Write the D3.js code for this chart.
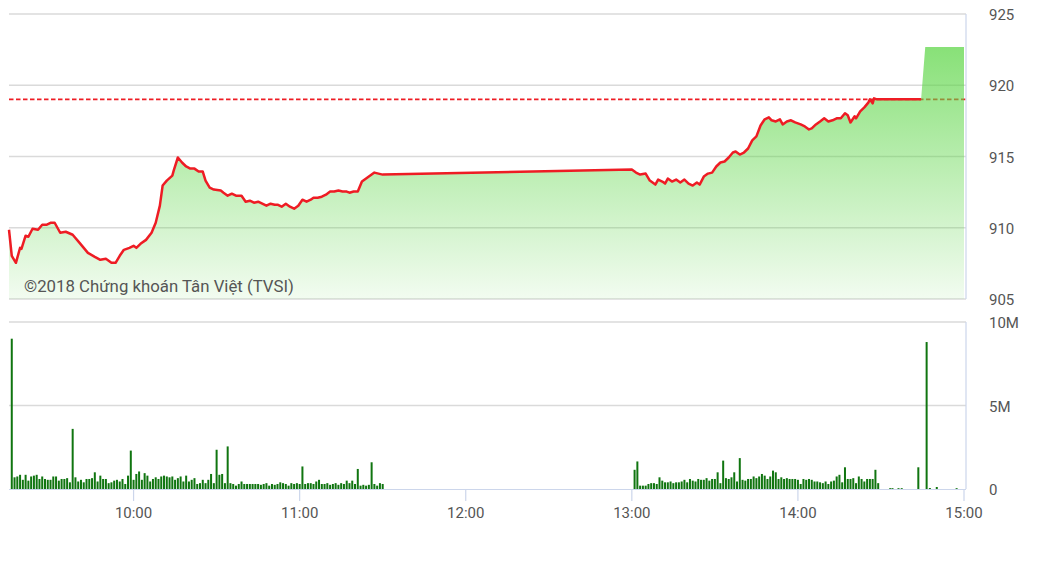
<!DOCTYPE html>
<html><head><meta charset="utf-8">
<script src="https://cdn.jsdelivr.net/npm/d3@7"></script>
<style>html,body{margin:0;padding:0;background:#fff}svg{display:block}</style>
</head><body>
<svg id="c" width="1042" height="585"></svg>
<script>
// ---------- DATA ----------
const priceTimes = ["09:15:00","09:16:00","09:17:30","09:19:00","09:19:30","09:21:00","09:22:00","09:23:30","09:25:30","09:27:00","09:28:30","09:30:00","09:31:30","09:33:30","09:35:30","09:38:00","09:40:30","09:43:30","09:46:00","09:48:00","09:50:00","09:52:00","09:53:30","09:55:00","09:56:30","09:58:30","10:00:00","10:01:00","10:02:30","10:04:30","10:06:30","10:08:00","10:09:30","10:10:30","10:12:00","10:14:00","10:14:30","10:16:00","10:17:30","10:19:00","10:20:30","10:22:00","10:23:30","10:25:00","10:26:00","10:27:30","10:29:00","10:31:30","10:32:30","10:34:00","10:35:30","10:37:00","10:39:00","10:40:30","10:42:00","10:43:30","10:45:00","10:46:30","10:48:00","10:49:30","10:51:00","10:52:00","10:53:30","10:55:00","10:56:30","10:58:00","10:59:30","11:01:00","11:02:30","11:04:00","11:05:00","11:06:30","11:08:00","11:09:30","11:11:00","11:12:30","11:14:00","11:15:30","11:17:00","11:18:00","11:19:30","11:21:00","11:22:30","11:24:00","11:25:30","11:27:00","11:28:30","11:30:00",
"13:00:00","13:01:30","13:03:00","13:05:00","13:06:30","13:08:30","13:09:30","13:11:00","13:12:00","13:13:00","13:14:30","13:16:00","13:17:30","13:19:00","13:20:30","13:22:00","13:23:30","13:24:30","13:26:00","13:27:30","13:29:00","13:30:30","13:32:00","13:33:30","13:35:00","13:36:30","13:37:30","13:39:00","13:40:30","13:42:00","13:43:30","13:45:00","13:46:30","13:48:00","13:49:30","13:50:30","13:52:00","13:53:30","13:54:30","13:56:00","13:57:30","13:59:00","14:01:00","14:02:30","14:04:00","14:05:00","14:06:30","14:08:00","14:09:30","14:11:00","14:12:30","14:14:00","14:15:30","14:17:00","14:18:00","14:19:00","14:20:30","14:21:00","14:22:30","14:24:00","14:25:30","14:26:00","14:27:00","14:27:30","14:28:30","14:44:30"];
const priceValues = [909.86,908.03,907.54,908.59,908.52,909.44,909.37,909.93,909.86,910.21,910.21,910.35,910.35,909.65,909.72,909.51,908.94,908.24,907.96,907.75,907.82,907.54,907.54,908.03,908.45,908.59,908.73,908.59,908.87,909.15,909.65,910.35,911.55,912.96,913.31,913.66,914.01,914.93,914.58,914.30,914.15,914.15,913.94,913.94,913.31,912.82,912.68,912.61,912.46,912.25,912.39,912.25,912.25,911.83,911.90,911.76,911.83,911.69,911.55,911.69,911.62,911.62,911.48,911.69,911.48,911.34,911.55,911.97,911.83,911.97,912.11,912.11,912.18,912.32,912.54,912.54,912.61,912.54,912.54,912.46,912.54,912.54,913.24,913.45,913.66,913.87,913.80,913.73,
914.08,913.87,913.73,913.80,913.31,913.03,913.38,913.24,913.10,913.45,913.24,913.38,913.17,913.38,913.10,912.96,913.17,913.03,913.59,913.80,913.87,914.30,914.58,914.65,914.93,915.28,915.35,915.14,915.28,915.56,916.13,916.41,917.18,917.61,917.75,917.54,917.46,917.61,917.25,917.46,917.54,917.39,917.25,917.11,916.90,916.97,917.25,917.46,917.68,917.46,917.54,917.68,917.68,918.03,917.89,917.39,917.82,917.68,918.17,918.45,918.80,919.01,918.73,919.08,919.01,919.01];
// closing (ATC) part of the filled area
const closeTimes = ["14:46:00","15:00:00"];
const closeValues = [922.68,922.68];
const referencePrice = 919.01;

// volume in millions, one bar per minute
const volMorningStart = "09:16:00";
const volMorning = [9.0,
0.7,0.75,0.85,0.55,0.85,0.5,0.75,0.8,0.85,0.6,0.75,0.6,0.55,0.55,0.75,0.75,0.5,0.6,0.6,0.65,0.4,
3.6,
0.7,0.45,0.55,0.4,0.6,0.6,0.65,1.0,0.45,0.8,0.6,0.6,0.35,0.4,0.5,0.55,0.45,0.6,0.3,0.8,
2.3,
0.55,0.9,1.05,0.55,0.95,0.8,0.45,0.6,0.7,0.6,0.75,0.8,0.75,0.7,0.75,0.55,0.65,0.75,0.45,0.8,
0.45,0.55,0.65,0.3,0.35,0.55,0.35,0.55,0.9,0.35,
2.35,0.85,0.9,0.35,2.55,
0.35,0.3,0.2,0.3,0.45,0.3,0.3,0.3,0.3,0.3,0.3,0.25,0.3,0.35,0.2,0.3,0.25,0.3,0.4,0.35,0.3,0.2,0.35,0.3,0.35,0.3,
1.35,
0.3,0.35,0.35,0.3,0.45,0.55,0.3,0.3,0.35,0.25,0.3,0.35,0.25,0.35,0.3,
0.5,0.35,0.5,0.3,1.2,0.2,0.25,0.2,0.25,1.6,0.3,0.2,0.35,0.3];
const volAfternoonStart = "13:01:00";
const volAfternoon = [1.15,1.65,0.2,0.2,0.2,0.3,0.35,0.35,0.3,0.7,
0.5,0.4,0.4,0.45,0.35,0.4,0.4,0.45,0.55,0.4,
0.6,0.5,0.45,0.6,0.55,0.55,0.65,0.5,0.6,0.6,
1.0,0.35,1.7,0.65,0.6,0.7,1.0,0.45,1.85,0.55,
0.5,0.6,0.6,0.75,0.65,0.75,0.9,0.8,0.6,0.75,
1.1,1.0,0.6,0.7,0.6,0.65,0.6,0.6,0.6,0.55,
0.3,0.6,0.55,0.6,0.55,0.45,0.45,0.4,0.35,0.45,
0.3,0.45,0.5,0.75,0.85,0.4,1.3,0.6,0.6,0.65,
0.35,0.75,0.6,0.45,0.6,0.6,0.6,1.15,0.35];
const volTailTimes = ["14:33:20","14:34:10","14:36:20","14:37:30","14:43:30","14:46:30","14:47:40","14:50:10","14:57:20"];
const volTailValues = [0.05,0.05,0.05,0.05,1.3,8.8,0.06,0.12,0.05];

const priceTicks = [905,910,915,920,925];
const volTicks = [0,5,10];
const volTickLabels = ["0","5M","10M"];
const timeTicks = ["10:00","11:00","12:00","13:00","14:00","15:00"];
const watermark = "©2018 Chứng khoán Tân Việt (TVSI)";

// ---------- CHART ----------
const pT = d3.timeParse("%H:%M:%S"), pM = d3.timeParse("%H:%M");
const svg = d3.select("#c");
const font = "Roboto, 'Noto Sans', sans-serif";
const x = d3.scaleTime().domain([pM("09:15"), pM("15:00")]).range([9, 964]);
const yP = d3.scaleLinear().domain([905, 925]).range([299, 14]);
const yV = d3.scaleLinear().domain([0, 10]).range([489, 322]);
const xL = 9, xR = 966;

const price = priceTimes.map((t, i) => ({t: pT(t), v: priceValues[i]}));
const areaData = price.concat(closeTimes.map((t, i) => ({t: pT(t), v: closeValues[i]})));

// gradient
const defs = svg.append("defs");
const g = defs.append("linearGradient").attr("id", "gf").attr("gradientUnits", "userSpaceOnUse")
  .attr("x1", 0).attr("x2", 0).attr("y1", yP(922.68)).attr("y2", yP(905));
g.append("stop").attr("offset", 0).attr("stop-color", "#5ed648").attr("stop-opacity", 0.74);
g.append("stop").attr("offset", 1).attr("stop-color", "#5ed648").attr("stop-opacity", 0.08);

// price grid
svg.append("g").selectAll("line").data(priceTicks).join("line")
  .attr("x1", xL).attr("x2", xR).attr("y1", d => yP(d)).attr("y2", d => yP(d))
  .attr("stroke", "#dadada").attr("stroke-width", 1.5);
// reference
svg.append("line").attr("x1", xL).attr("x2", xR).attr("y1", yP(referencePrice)).attr("y2", yP(referencePrice))
  .attr("stroke", "#ee1c24").attr("stroke-width", 1.6).attr("stroke-dasharray", "4.5,2.5");
// area
svg.append("path").datum(areaData)
  .attr("d", d3.area().x(d => x(d.t)).y0(yP(905)).y1(d => yP(d.v)))
  .attr("fill", "url(#gf)");
// line
svg.append("path").datum(price)
  .attr("d", d3.line().x(d => x(d.t)).y(d => yP(d.v)))
  .attr("fill", "none").attr("stroke", "#ee1c24").attr("stroke-width", 2.5).attr("stroke-linejoin", "round");
// right border price
svg.append("line").attr("x1", xR).attr("x2", xR).attr("y1", 14).attr("y2", 299).attr("stroke", "#ccd6eb").attr("stroke-width", 1.2);

// price axis labels
svg.append("g").selectAll("text").data(priceTicks).join("text")
  .attr("x", 989).attr("y", d => yP(d) + 1).attr("dominant-baseline", "central")
  .attr("font-family", font).attr("font-size", 15).attr("fill", "#555").text(d => d);

// watermark
svg.append("text").attr("x", 24).attr("y", 292).attr("font-family", font).attr("font-size", 16.8)
  .attr("fill", "#555").text(watermark);

// volume grid
svg.append("g").selectAll("line").data(volTicks.filter(d => d > 0)).join("line")
  .attr("x1", xL).attr("x2", xR).attr("y1", d => yV(d)).attr("y2", d => yV(d))
  .attr("stroke", "#dadada").attr("stroke-width", 1.5);

// volume bars
const vols = [];
const m0 = pT(volMorningStart), a0 = pT(volAfternoonStart);
volMorning.forEach((v, i) => vols.push({t: d3.timeMinute.offset(m0, i), v}));
volAfternoon.forEach((v, i) => vols.push({t: d3.timeMinute.offset(a0, i), v}));
volTailTimes.forEach((t, i) => vols.push({t: pT(t), v: volTailValues[i]}));
svg.append("g").selectAll("rect").data(vols).join("rect")
  .attr("x", d => x(d.t) - 1).attr("width", 2)
  .attr("y", d => yV(d.v)).attr("height", d => yV(0) - yV(d.v))
  .attr("fill", "#107510");

// volume axis / border
svg.append("line").attr("x1", xL).attr("x2", xR).attr("y1", 489.5).attr("y2", 489.5).attr("stroke", "#ccd6eb").attr("stroke-width", 1.2);
svg.append("line").attr("x1", xR).attr("x2", xR).attr("y1", 322).attr("y2", 489).attr("stroke", "#ccd6eb").attr("stroke-width", 1.2);
svg.append("g").selectAll("text").data(volTicks).join("text")
  .attr("x", 989).attr("y", d => yV(d) + 1).attr("dominant-baseline", "central")
  .attr("font-family", font).attr("font-size", 15).attr("fill", "#555").text((d, i) => volTickLabels[i]);

// time axis
const tt = timeTicks.map(pM);
svg.append("g").selectAll("line").data(tt).join("line")
  .attr("x1", d => x(d)).attr("x2", d => x(d)).attr("y1", 489.5).attr("y2", 501)
  .attr("stroke", "#ccd6eb").attr("stroke-width", 1.2);
svg.append("g").selectAll("text").data(tt).join("text")
  .attr("x", d => x(d)).attr("y", 513).attr("text-anchor", "middle").attr("dominant-baseline", "central")
  .attr("font-family", font).attr("font-size", 15).attr("fill", "#555").text(d => d3.timeFormat("%H:%M")(d));
</script>
</body></html>
